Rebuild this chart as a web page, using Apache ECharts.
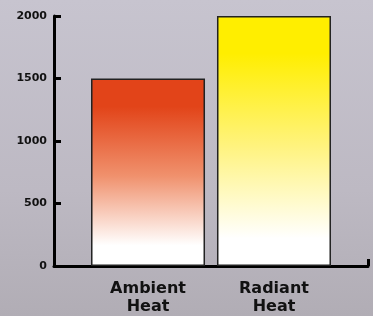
<!DOCTYPE html>
<html>
<head>
<meta charset="utf-8">
<script src="https://cdn.jsdelivr.net/npm/echarts@6/dist/echarts.min.js"></script>
<style>
  html, body { margin: 0; padding: 0; }
  #chart { width: 373px; height: 316px; }
</style>
</head>
<body>
<div id="chart"></div>
<script>
// data
const categories = ["Ambient Heat", "Radiant Heat"]
const values = [1500, 2000]
const topColors = ["#e24419", "#ffee00"]
const midColors = ["#f0916d", "#fff37e"]

const chart = echarts.init(document.getElementById("chart"))

// one bar series per category so both sit in the single x slot
const series = categories.map((name, i) => ({
  name: name,
  type: "bar",
  data: [values[i]],
  barWidth: 114,
  barGap: "10.5%",
  itemStyle: {
    borderColor: "#222",
    borderWidth: 1.5,
    color: new echarts.graphic.LinearGradient(0, 0, 0, 1, [
      { offset: 0, color: topColors[i] },
      { offset: 0.15, color: topColors[i] },
      { offset: 0.52, color: midColors[i] },
      { offset: 0.89, color: "#ffffff" },
      { offset: 1, color: "#ffffff" },
    ]),
  },
  label: {
    show: true,
    position: "bottom",
    distance: 14,
    formatter: () => name.replace(" ", "\n"),
    fontFamily: "DejaVu Sans",
    fontWeight: "bold",
    fontSize: 16,
    lineHeight: 18,
    color: "#111",
  },
}))

const option = {
  animation: false,
  backgroundColor: new echarts.graphic.LinearGradient(0, 0, 0, 1, [
    { offset: 0, color: "#c7c4cf" },
    { offset: 0.6, color: "#bdb9c3" },
    { offset: 1, color: "#b1adb5" },
  ]),
  grid: { left: 54, right: 5, top: 16, bottom: 50 },
  xAxis: {
    type: "category",
    data: [""],
    axisLine: { lineStyle: { color: "#000", width: 3 } },
    axisTick: { show: true, inside: true, length: 7, lineStyle: { color: "#000", width: 3 } },
    axisLabel: { show: false },
  },
  yAxis: {
    type: "value",
    min: 0,
    max: 2000,
    interval: 500,
    splitLine: { show: false },
    axisLine: { show: true, lineStyle: { color: "#000", width: 3 } },
    axisTick: { show: true, inside: true, length: 7, lineStyle: { color: "#000", width: 3 } },
    axisLabel: {
      margin: 7,
      formatter: (v) => String(v),
      fontFamily: "DejaVu Sans",
      fontWeight: "bold",
      fontSize: 11,
      color: "#111",
    },
  },
  series: series,
}

chart.setOption(option)
window.addEventListener("resize", () => chart.resize())
</script>
</body>
</html>
